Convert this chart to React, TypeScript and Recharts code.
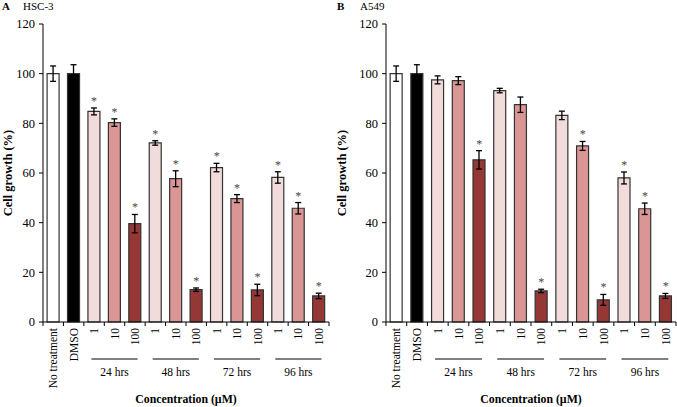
import React from 'react';
import { ComposedChart, Bar, Cell, ErrorBar, Scatter, XAxis, YAxis } from 'recharts';

const categories = ['No treatment', 'DMSO', '1', '10', '100', '1', '10', '100', '1', '10', '100', '1', '10', '100'];
const groupLabels = ['24 hrs', '48 hrs', '72 hrs', '96 hrs'];
const yTicks = [0, 20, 40, 60, 80, 100, 120];

const hsc3Values = [100, 100, 84.8, 80.3, 39.6, 72.1, 57.7, 13.0, 62.2, 49.7, 12.9, 58.2, 45.8, 10.5];
const hsc3Errors = [3.1, 3.6, 1.4, 1.5, 3.7, 0.9, 3.2, 0.7, 1.7, 1.6, 2.3, 2.3, 2.3, 1.1];
const hsc3Sig = [false, false, true, true, true, true, true, true, true, true, true, true, true, true];

const a549Values = [100, 100, 97.5, 97.2, 65.3, 93.2, 87.5, 12.5, 83.2, 70.9, 8.9, 58.0, 45.6, 10.5];
const a549Errors = [3.1, 3.6, 1.6, 1.6, 3.7, 0.9, 3.1, 0.7, 1.7, 1.8, 2.2, 2.4, 2.3, 1.0];
const a549Sig = [false, false, false, false, true, false, false, true, false, true, true, true, true, true];

const barFills = ['#ffffff', '#000000', '#f2dcdb', '#d99694', '#953735', '#f2dcdb', '#d99694', '#953735', '#f2dcdb', '#d99694', '#953735', '#f2dcdb', '#d99694', '#953735'];

const FONT = '"Liberation Serif", "Times New Roman", serif';

function buildData(values: number[], errors: number[], sig: boolean[]) {
  return categories.map((c, i) => ({
    key: 'c' + i,
    label: c,
    value: values[i],
    err: errors[i],
    sig: sig[i],
    star: values[i] + errors[i],
  }));
}

const makeTick = (band: number) => (props: any) => {
  const { x, y, payload } = props;
  const i = payload.index;
  const label = categories[i];
  const ty = y + 6;
  const els: any[] = [];
  els.push(<line key="t0" x1={x - band / 2} x2={x - band / 2} y1={y} y2={y + 4} stroke="#000" strokeWidth={1} />);
  if (i === categories.length - 1) {
    els.push(<line key="t1" x1={x + band / 2} x2={x + band / 2} y1={y} y2={y + 4} stroke="#000" strokeWidth={1} />);
  }
  els.push(
    <text key="lbl" x={x} y={ty} transform={`rotate(-90 ${x} ${ty})`} textAnchor="end" dy="0.35em" fontFamily={FONT} fontSize={11.5} fill="#000">
      {label}
    </text>
  );
  if (i >= 3 && (i - 3) % 3 === 0) {
    const g = (i - 3) / 3;
    els.push(<line key="gl" x1={x - 1.13 * band} x2={x + 1.13 * band} y1={y + 37} y2={y + 37} stroke="#000" strokeWidth={1} />);
    els.push(
      <text key="gt" x={x} y={y + 54} textAnchor="middle" fontFamily={FONT} fontSize={11.5} fill="#000">
        {groupLabels[g]}
      </text>
    );
  }
  return <g>{els}</g>;
};

const starShape = (p: any) => {
  if (!p.payload || !p.payload.sig) return <g />;
  return (
    <g opacity={0.99}>
      <text x={p.cx} y={p.cy - 3} textAnchor="middle" fontFamily={FONT} fontSize={12} fill="#444" stroke="none">
        *
      </text>
    </g>
  );
};

function Panel(props: { values: number[]; errors: number[]; sig: boolean[]; width: number; yAxisWidth: number; right: number }) {
  const { values, errors, sig, width, yAxisWidth, right } = props;
  const data = buildData(values, errors, sig);
  const plotWidth = width - yAxisWidth - right;
  const band = plotWidth / categories.length;
  return (
    <ComposedChart width={width} height={407} data={data} margin={{ top: 24, right: right, bottom: 0, left: 0 }} barCategoryGap="20%">
      <XAxis
        dataKey="key"
        height={85}
        interval={0}
        tickLine={false}
        tickSize={0}
        tickMargin={0}
        axisLine={{ stroke: '#000', strokeWidth: 1 }}
        tick={makeTick(band)}
      />
      <YAxis
        width={yAxisWidth}
        domain={[0, 120]}
        ticks={yTicks}
        interval={0}
        tickSize={4}
        tickMargin={4}
        axisLine={{ stroke: '#000', strokeWidth: 1 }}
        tickLine={{ stroke: '#000', strokeWidth: 1 }}
        tick={{ fontFamily: FONT, fontSize: 12.5, fill: '#000' }}
      />
      <Bar dataKey="value" isAnimationActive={false} stroke="#333" strokeWidth={1.2}>
        {data.map((d, i) => (
          <Cell key={i} fill={barFills[i]} />
        ))}
        <ErrorBar dataKey="err" width={3} stroke="#000" strokeWidth={1.3} direction="y" />
      </Bar>
      <Scatter dataKey="star" isAnimationActive={false} shape={starShape} legendType="none" fill="#444" />
    </ComposedChart>
  );
}

export default function App() {
  return (
    <div style={{ position: 'absolute', left: 0, top: 0, width: 677, height: 407, background: '#fff', overflow: 'hidden' }}>
      <div style={{ position: 'absolute', left: 0, top: 0 }}>
        <Panel values={hsc3Values} errors={hsc3Errors} sig={hsc3Sig} width={338} yAxisWidth={43} right={9} />
      </div>
      <div style={{ position: 'absolute', left: 338, top: 0 }}>
        <Panel values={a549Values} errors={a549Errors} sig={a549Sig} width={339} yAxisWidth={48} right={1} />
      </div>
      <svg width={677} height={407} style={{ position: 'absolute', left: 0, top: 0, pointerEvents: 'none' }}>
        <text x={2} y={10} fontFamily={FONT} fontWeight="bold" fontSize={11}>A</text>
        <text x={23} y={10} fontFamily={FONT} fontSize={11}>HSC-3</text>
        <text x={337} y={10} fontFamily={FONT} fontWeight="bold" fontSize={11}>B</text>
        <text x={360} y={10} fontFamily={FONT} fontSize={11}>A549</text>
        <text x={8} y={173} transform="rotate(-90 8 173)" textAnchor="middle" dy="0.35em" fontFamily={FONT} fontWeight="bold" fontSize={12.5}>Cell growth (%)</text>
        <text x={342} y={173} transform="rotate(-90 342 173)" textAnchor="middle" dy="0.35em" fontFamily={FONT} fontWeight="bold" fontSize={12.5}>Cell growth (%)</text>
        <text x={186} y={403} textAnchor="middle" fontFamily={FONT} fontWeight="bold" fontSize={11.8}>Concentration (µM)</text>
        <text x={531} y={403} textAnchor="middle" fontFamily={FONT} fontWeight="bold" fontSize={11.8}>Concentration (µM)</text>
      </svg>
    </div>
  );
}
